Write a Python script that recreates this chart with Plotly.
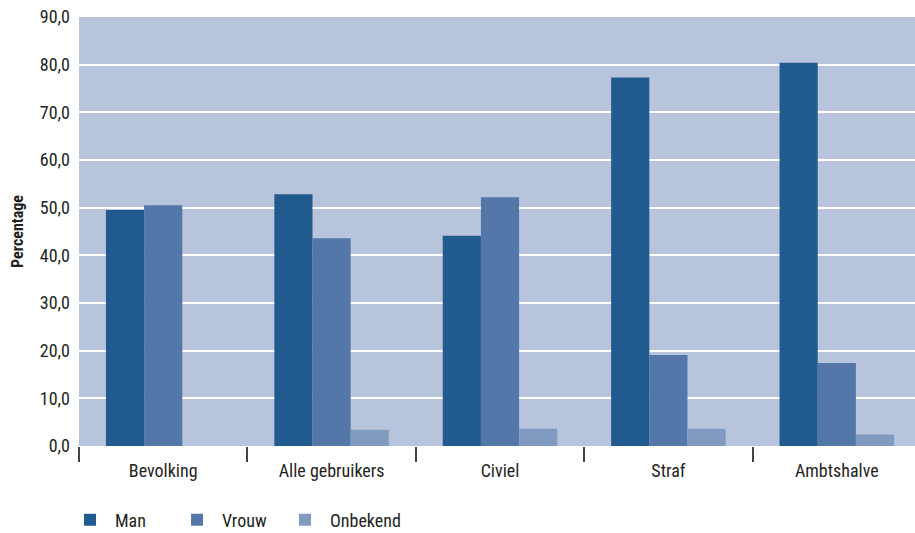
import plotly.graph_objects as go

categories = ["Bevolking", "Alle gebruikers", "Civiel", "Straf", "Ambtshalve"]
man = [49.5, 52.8, 44.1, 77.3, 80.4]
vrouw = [50.5, 43.6, 52.2, 19.1, 17.4]
onbekend = [0.0, 3.4, 3.6, 3.6, 2.4]
series_names = ["Man", "Vrouw", "Onbekend"]
colors = ["#215A8E", "#5277A8", "#819BC0"]
legend_ids = ["legend", "legend2", "legend3"]
legend_x = [-0.0166, 0.1105, 0.2387]

FONT = "Liberation Sans Narrow, Arial Narrow, Roboto Condensed, sans-serif"

fig = go.Figure()
for name, vals, col, lid in zip(series_names, [man, vrouw, onbekend], colors, legend_ids):
    fig.add_trace(go.Bar(x=categories, y=vals, name=name, marker_color=col,
                         marker_line_width=0, legend=lid))

legend_common = dict(orientation="h", xanchor="left", y=-0.1725, yanchor="middle",
                     font=dict(size=18), itemwidth=40, bgcolor="rgba(0,0,0,0)")

# the plot area runs slightly past the right edge of the window, as in the reference
fig.update_layout(
    width=921, height=533,
    barmode="group", bargap=0.32, bargroupgap=0,
    plot_bgcolor="#B8C4DC", paper_bgcolor="white",
    margin=dict(l=79, r=0, t=17, b=87, autoexpand=False),
    separators=",.",
    font=dict(family=FONT, size=17, color="#231F20"),
    legend=dict(x=legend_x[0], **legend_common),
    legend2=dict(x=legend_x[1], **legend_common),
    legend3=dict(x=legend_x[2], **legend_common),
    showlegend=True,
    hovermode=False,
)
fig.update_yaxes(range=[0, 90], dtick=10, tickformat=".1f", showgrid=True,
                 gridcolor="white", gridwidth=2, zeroline=False, automargin=False,
                 title=dict(text="<b>Percentage</b>", font=dict(size=16), standoff=12),
                 ticks="", tickfont=dict(size=18), showline=False,
                 ticklabelstandoff=8)
fig.update_xaxes(ticks="outside", tickson="boundaries", ticklen=15, tickcolor="#444",
                 tickwidth=1.5, showline=False, tickfont=dict(size=18),
                 automargin=False, ticklabelstandoff=12)

fig.write_html("out.html", config={"displayModeBar": False},
               post_script="document.body.style.margin='0';document.body.style.overflow='hidden';")
